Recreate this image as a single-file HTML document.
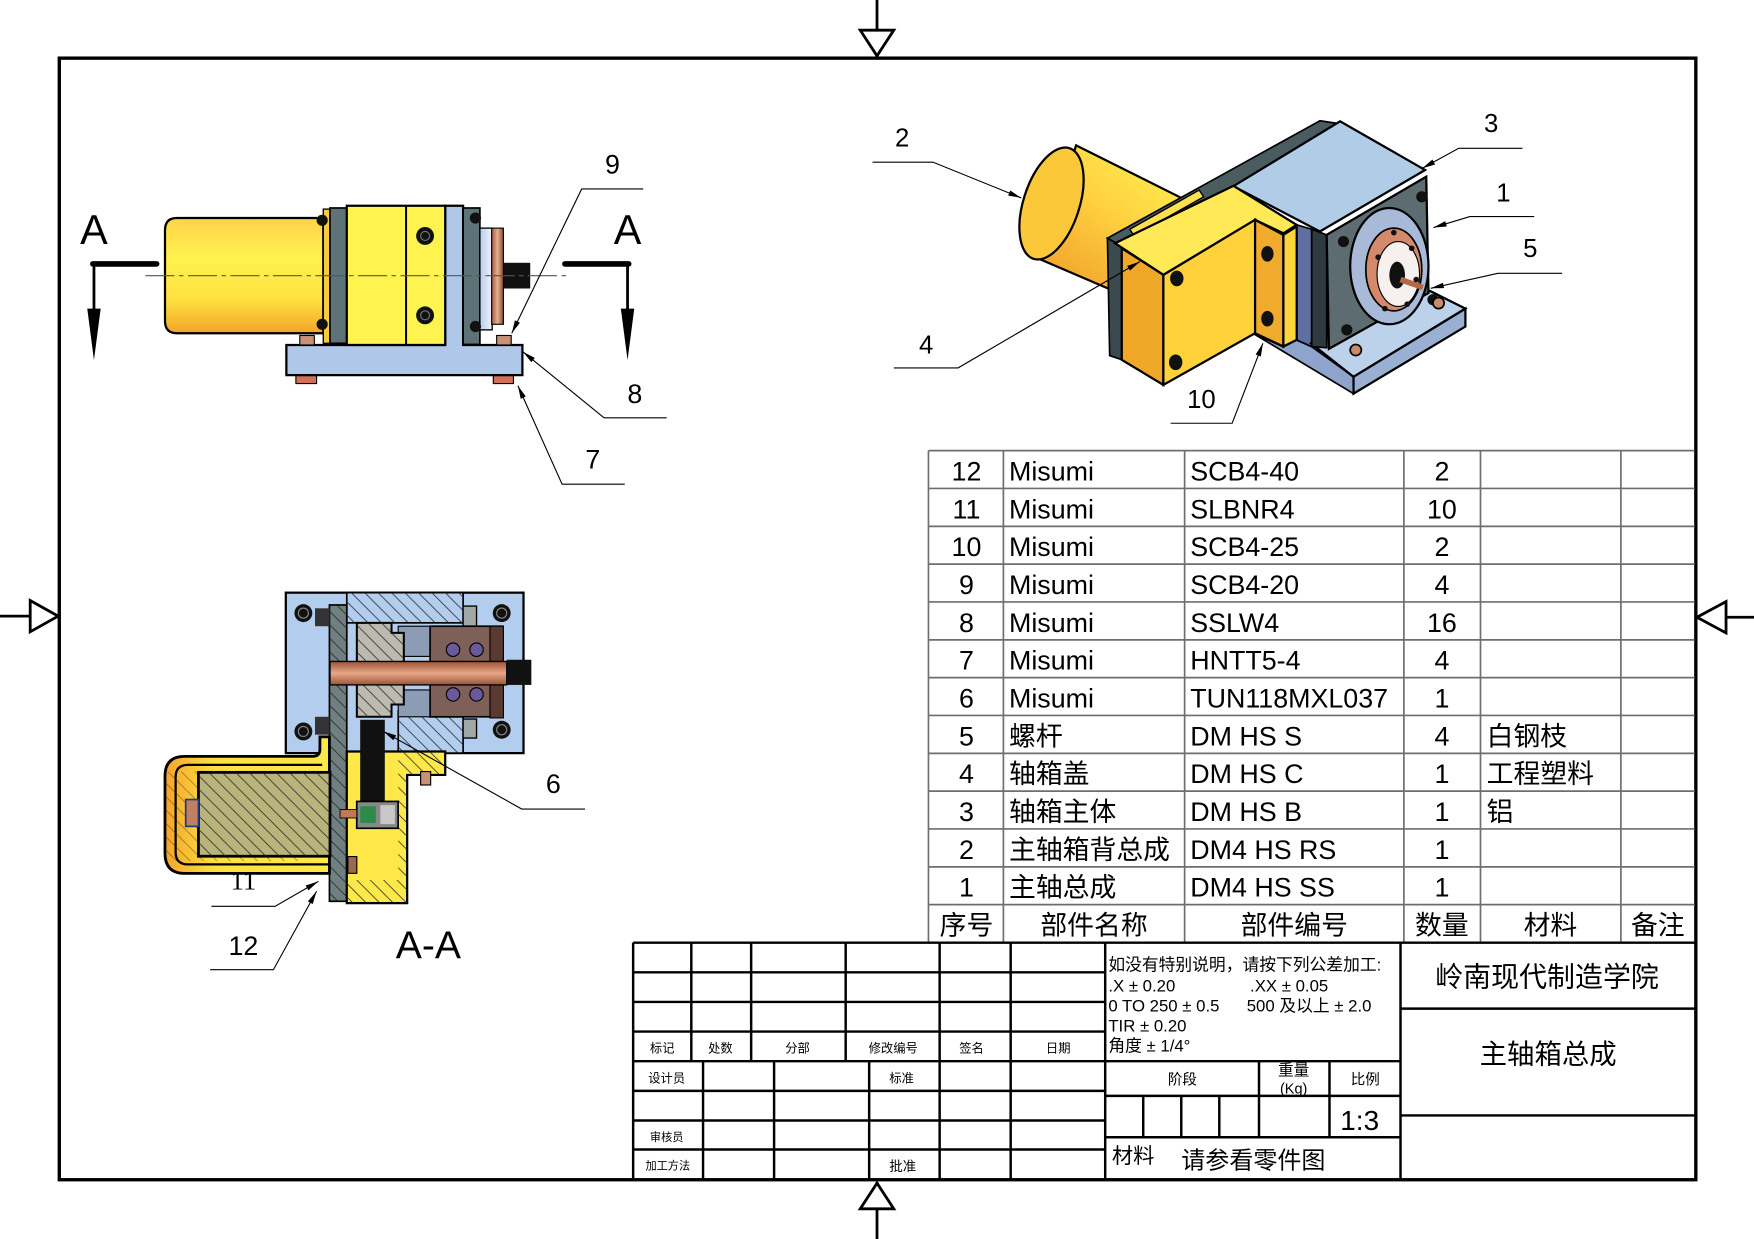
<!DOCTYPE html>
<html><head><meta charset="utf-8">
<style>
html,body{margin:0;padding:0;background:#fff;}
svg{display:block;}
text{font-family:"Liberation Sans","Noto Sans CJK SC",sans-serif;fill:#000;}
</style></head><body>
<svg width="1754" height="1239" viewBox="0 0 1568 1108" preserveAspectRatio="none" xmlns="http://www.w3.org/2000/svg">
<defs>
 <linearGradient id="mf" x1="0" y1="0" x2="0" y2="1">
  <stop offset="0" stop-color="#FFD24A"/><stop offset="0.35" stop-color="#FFF24E"/>
  <stop offset="0.7" stop-color="#FFE240"/><stop offset="1" stop-color="#F2A42A"/>
 </linearGradient>
 <linearGradient id="mi" x1="0" y1="1" x2="0.7" y2="0">
  <stop offset="0" stop-color="#EE9A28"/><stop offset="0.6" stop-color="#FFD040"/><stop offset="1" stop-color="#FFEC50"/>
 </linearGradient>
 <linearGradient id="ms" x1="0" y1="0" x2="1" y2="0">
  <stop offset="0" stop-color="#F4A52C"/><stop offset="0.3" stop-color="#FFE040"/><stop offset="1" stop-color="#FFE84A"/>
 </linearGradient>
 <linearGradient id="cu" x1="0" y1="0" x2="0" y2="1">
  <stop offset="0" stop-color="#9A5236"/><stop offset="0.5" stop-color="#E8A888"/><stop offset="1" stop-color="#9A5236"/>
 </linearGradient>
 <linearGradient id="cuh" x1="0" y1="0" x2="1" y2="0">
  <stop offset="0" stop-color="#A05838"/><stop offset="0.5" stop-color="#E8B090"/><stop offset="1" stop-color="#8A4A30"/>
 </linearGradient>
 <linearGradient id="fl" x1="0" y1="0" x2="1" y2="0">
  <stop offset="0" stop-color="#B8CCE8"/><stop offset="1" stop-color="#EEF4FF"/>
 </linearGradient>
 <pattern id="h" patternUnits="userSpaceOnUse" width="12" height="12">
  <path d="M0,0 L12,12 M-3,9 L3,15 M9,-3 L15,3" stroke="#222" stroke-width="0.7" fill="none"/>
 </pattern>
 <marker id="ar" viewBox="0 0 14 6" refX="14" refY="3" markerWidth="14" markerHeight="5" markerUnits="userSpaceOnUse" orient="auto">
  <path d="M0,0 L14,3 L0,6 z" fill="#000"/>
 </marker>
</defs>

<!-- ===== border & center marks ===== -->
<rect x="53" y="52" width="1463" height="1003" fill="none" stroke="#000" stroke-width="3"/>
<line x1="784" y1="0" x2="784" y2="51" stroke="#000" stroke-width="2.5"/>
<polygon points="769,27 799,27 784,50" fill="#fff" stroke="#000" stroke-width="2.5"/>
<line x1="784" y1="1057" x2="784" y2="1108" stroke="#000" stroke-width="2.5"/>
<polygon points="784,1058 769,1081 799,1081" fill="#fff" stroke="#000" stroke-width="2.5"/>
<line x1="0" y1="551" x2="52" y2="551" stroke="#000" stroke-width="2.5"/>
<polygon points="52,551 27,537 27,565" fill="#fff" stroke="#000" stroke-width="2.5"/>
<line x1="1517" y1="552" x2="1568" y2="552" stroke="#000" stroke-width="2.5"/>
<polygon points="1517,552 1543,538 1543,566" fill="#fff" stroke="#000" stroke-width="2.5"/>

<!-- ===== FRONT VIEW ===== -->
<path d="M289,195 L158,195 Q147.5,195 147.5,206 L147.5,287 Q147.5,298 158,298 L289,298 Z" fill="url(#mf)" stroke="#000" stroke-width="2"/>
<rect x="289" y="187" width="6" height="120" fill="#F6CC3C" stroke="#000" stroke-width="1.2"/>
<rect x="295" y="186" width="15" height="121" fill="#5E7378" stroke="#000" stroke-width="1.5"/>
<path d="M256,308.5 H398 V184 H414 V308.5 H467 V335.5 H256 Z" fill="#AFC8EA" stroke="#000" stroke-width="2"/>
<rect x="310" y="184" width="88" height="124.5" fill="#FFF44F" stroke="#000" stroke-width="2"/>
<line x1="363" y1="184" x2="363" y2="308.5" stroke="#000" stroke-width="1.8"/>
<circle cx="380" cy="211" r="8" fill="#111"/><circle cx="380" cy="211" r="4" fill="none" stroke="#777" stroke-width="1"/>
<circle cx="380" cy="282" r="8" fill="#111"/><circle cx="380" cy="282" r="4" fill="none" stroke="#777" stroke-width="1"/>
<rect x="414" y="186" width="15" height="122" fill="#5E7378" stroke="#000" stroke-width="1.5"/>
<rect x="429" y="204" width="11" height="91" fill="url(#fl)" stroke="#000" stroke-width="1.2"/>
<rect x="439.5" y="204" width="10.5" height="86" fill="url(#cuh)" stroke="#000" stroke-width="1"/>
<rect x="450" y="235" width="24" height="23" fill="#111"/>
<rect x="264.5" y="336" width="18.5" height="7" fill="#D0705A" stroke="#000" stroke-width="1"/>
<rect x="441" y="336" width="18" height="7" fill="#D0705A" stroke="#000" stroke-width="1"/>
<rect x="268" y="300" width="13" height="8.5" fill="#C89078" stroke="#000" stroke-width="1"/>
<rect x="444" y="300" width="13" height="8.5" fill="#C89078" stroke="#000" stroke-width="1"/>
<circle cx="288" cy="197" r="5" fill="#111"/><circle cx="288" cy="290" r="5" fill="#111"/>
<circle cx="425" cy="195" r="5" fill="#111"/><circle cx="425" cy="292" r="5" fill="#111"/>
<line x1="130" y1="246.5" x2="506" y2="246.5" stroke="#555" stroke-width="1" stroke-dasharray="26 4 4 4"/>
<!-- cutting plane marks -->
<line x1="83" y1="236" x2="140" y2="236" stroke="#000" stroke-width="5" stroke-linecap="round"/>
<line x1="84" y1="236" x2="84" y2="280" stroke="#000" stroke-width="2.5"/>
<polygon points="78,276 90,276 84,322" fill="#000"/>
<line x1="505" y1="236" x2="562" y2="236" stroke="#000" stroke-width="5" stroke-linecap="round"/>
<line x1="561" y1="236" x2="561" y2="280" stroke="#000" stroke-width="2.5"/>
<polygon points="555,276 567,276 561,322" fill="#000"/>
<text x="84" y="218" font-size="37" text-anchor="middle">A</text>
<text x="561" y="218" font-size="37" text-anchor="middle">A</text>
<!-- leaders front -->
<g fill="none" stroke="#000" stroke-width="1">
 <polyline points="575,169 520,169 457.5,298" marker-end="url(#ar)"/>
 <polyline points="596,373.6 540,373.6 467.5,314.6" marker-end="url(#ar)"/>
 <polyline points="558.5,433 502.5,433 463,345" marker-end="url(#ar)"/>
</g>
<text x="547.5" y="155" font-size="24" text-anchor="middle">9</text>
<text x="567.5" y="360.5" font-size="24" text-anchor="middle">8</text>
<text x="530" y="419" font-size="24" text-anchor="middle">7</text>

<!-- ===== ISO VIEW ===== -->
<path d="M962,130 L1056,177 L1000,262 L930,232 Z" fill="url(#mi)" stroke="#000" stroke-width="2"/>
<ellipse cx="940" cy="182" rx="25" ry="52" transform="rotate(18 940 182)" fill="#FBC83A" stroke="#000" stroke-width="2"/>
<polygon points="990,213 1180,108 1200,111 1006,222" fill="#4A5C60" stroke="#000" stroke-width="1.5"/>
<polygon points="990,213 1004,221 1004,322 992,318" fill="#3A4A4E" stroke="#000" stroke-width="1.5"/>
<polygon points="1010,205 1072,170 1076,176 1014,211" fill="#FFE050" stroke="#000" stroke-width="1.2"/>
<polygon points="1102.6,166.5 1198,108.5 1274,152 1180,207" fill="#B0CCE6" stroke="#000" stroke-width="2"/>
<polygon points="1120,298 1147,310 1159,304 1172.6,310 1210,337 1210,352" fill="#8EA4CC" stroke="#000" stroke-width="1.5"/>
<polygon points="1159,201 1172.6,205 1172.6,310 1159,304" fill="#5E6FA0" stroke="#000" stroke-width="1.5"/>
<polygon points="1172,307 1278,260 1310,276 1210,337" fill="#BCD2EA" stroke="#000" stroke-width="2"/>
<polygon points="1210,337 1310,276 1310,292 1210,352" fill="#9AB0D2" stroke="#000" stroke-width="2"/>
<polygon points="1172.6,205 1186,210 1186,311 1172.6,310" fill="#2E3A40" stroke="#000" stroke-width="1.5"/>
<polygon points="1186,210 1275,158 1277,262 1188,312" fill="#5C6C70" stroke="#000" stroke-width="2"/>
<ellipse cx="1242" cy="238" rx="35" ry="52" fill="#A8BAD8" stroke="#000" stroke-width="2"/>
<ellipse cx="1246" cy="241" rx="25" ry="37" fill="#D48A6A" stroke="#000" stroke-width="1.5"/>
<ellipse cx="1250" cy="245" rx="19" ry="29" fill="#F6F0EE" stroke="#000" stroke-width="1"/>
<ellipse cx="1249" cy="246" rx="7" ry="12" fill="#111"/>
<line x1="1252" y1="250" x2="1272" y2="257" stroke="#B06A48" stroke-width="5"/>
<g fill="#111">
 <circle cx="1246" cy="208" r="2.5"/><circle cx="1262" cy="222" r="2.5"/><circle cx="1266" cy="250" r="2.5"/>
 <circle cx="1258" cy="272" r="2.5"/><circle cx="1238" cy="276" r="2.5"/><circle cx="1232" cy="230" r="2.5"/>
 <circle cx="1271" cy="176" r="5"/><circle cx="1201" cy="216" r="5"/><circle cx="1204" cy="295" r="5"/><circle cx="1281" cy="268" r="5"/>
</g>
<ellipse cx="1212" cy="313" rx="5" ry="5" fill="#C88A6A" stroke="#000" stroke-width="1.5"/>
<ellipse cx="1286" cy="271" rx="5" ry="5" fill="#C88A6A" stroke="#000" stroke-width="1.5"/>
<!-- lid -->
<polygon points="1002.8,222 1040,245.8 1040,344.2 1002.8,321.8" fill="#EFA728" stroke="#000" stroke-width="2"/>
<polygon points="996.8,217.5 1102.6,166.2 1159.2,201.1 1147.3,208.6 1122,196.6 1040,245.8" fill="#FFE957" stroke="#000" stroke-width="2"/>
<polygon points="1040,245.8 1122,196.6 1122,298 1040,344.2" fill="#FFD13A" stroke="#000" stroke-width="2"/>
<polygon points="1122,196.6 1147.3,210 1147.3,309.9 1122,298" fill="#F0AA2C" stroke="#000" stroke-width="2"/>
<polygon points="1147.3,210 1159.2,202.6 1159.2,303.9 1147.3,309.9" fill="#FFD53E" stroke="#000" stroke-width="2"/>
<g fill="#111">
 <ellipse cx="1052" cy="249" rx="6" ry="7"/><ellipse cx="1051" cy="324" rx="6" ry="7"/>
 <ellipse cx="1133" cy="227" rx="5.5" ry="7"/><ellipse cx="1133" cy="285" rx="5.5" ry="7"/>
</g>
<!-- iso leaders -->
<g fill="none" stroke="#000" stroke-width="1">
 <polyline points="780,145 834,145 913,177" marker-end="url(#ar)"/>
 <polyline points="1361,132.6 1304,132.6 1271.5,150.5" marker-end="url(#ar)"/>
 <polyline points="1371.5,193.7 1314,193.7 1281.5,203.5" marker-end="url(#ar)"/>
 <polyline points="1396.5,244.4 1339,244.4 1279,257.8" marker-end="url(#ar)"/>
 <polyline points="799,329 856.5,329 1019,234" marker-end="url(#ar)"/>
 <polyline points="1046.5,378.5 1101.5,378.5 1129,307" marker-end="url(#ar)"/>
</g>
<text x="806.5" y="131" font-size="23" text-anchor="middle">2</text>
<text x="1333" y="118" font-size="23" text-anchor="middle">3</text>
<text x="1344" y="180" font-size="23" text-anchor="middle">1</text>
<text x="1368" y="230" font-size="23" text-anchor="middle">5</text>
<text x="828" y="316" font-size="23" text-anchor="middle">4</text>
<text x="1074" y="365" font-size="23" text-anchor="middle">10</text>

<!-- ===== SECTION A-A ===== -->
<rect x="255.5" y="530" width="212.5" height="143.5" fill="#B2CDEE" stroke="#000" stroke-width="2"/>
<rect x="310" y="530" width="104" height="27" fill="#B2CDEE" stroke="#000" stroke-width="1.5"/>
<rect x="310" y="530" width="104" height="27" fill="url(#h)"/>
<path d="M356,636 H384 V641 H414 V673.5 H356 Z" fill="#B2CDEE" stroke="#000" stroke-width="1.5"/>
<path d="M356,636 H384 V641 H414 V673.5 H356 Z" fill="url(#h)"/>
<rect x="414" y="542" width="12" height="18" fill="#A0A8A8" stroke="#000" stroke-width="1.2"/>
<rect x="414" y="643" width="12" height="17" fill="#A0A8A8" stroke="#000" stroke-width="1.2"/>
<rect x="356" y="560" width="29" height="27" fill="#8C9CB4" stroke="#000" stroke-width="1"/>
<rect x="356" y="617" width="29" height="24" fill="#8C9CB4" stroke="#000" stroke-width="1"/>
<rect x="384.5" y="560" width="65" height="81" fill="#7E6058" stroke="#000" stroke-width="1.5"/>
<rect x="438" y="560" width="12" height="82" fill="#5A3A30" stroke="#000" stroke-width="1"/>
<g fill="#6A5A9A" stroke="#000" stroke-width="1">
 <circle cx="405" cy="581" r="6"/><circle cx="426" cy="581" r="6"/>
 <circle cx="405" cy="621" r="6"/><circle cx="426" cy="621" r="6"/>
</g>
<path d="M319,557 H350 V566 H361 V630 H350 V641 H319 Z" fill="#BDBAB2" stroke="#000" stroke-width="1.8"/>
<path d="M319,557 H350 V566 H361 V630 H350 V641 H319 Z" fill="url(#h)"/>
<rect x="294.5" y="541" width="15.5" height="265" fill="#708080" stroke="#000" stroke-width="1.5"/>
<rect x="294.5" y="541" width="15.5" height="265" fill="url(#h)"/>
<rect x="295" y="591.5" width="158" height="21" fill="url(#cu)" stroke="#000" stroke-width="1.2"/>
<rect x="453" y="590" width="22" height="22.5" fill="#111"/>
<rect x="281.6" y="544" width="13" height="16" fill="#333"/>
<rect x="281.6" y="641" width="13" height="16" fill="#333"/>
<g>
 <circle cx="271.2" cy="548.3" r="8" fill="#111"/><circle cx="271.2" cy="548.3" r="4.5" fill="none" stroke="#888" stroke-width="1"/>
 <circle cx="448.5" cy="548.3" r="8" fill="#111"/><circle cx="448.5" cy="548.3" r="4.5" fill="none" stroke="#888" stroke-width="1"/>
 <circle cx="271.2" cy="654.1" r="8" fill="#111"/><circle cx="271.2" cy="654.1" r="4.5" fill="none" stroke="#888" stroke-width="1"/>
 <circle cx="448.5" cy="652.6" r="8" fill="#111"/><circle cx="448.5" cy="652.6" r="4.5" fill="none" stroke="#888" stroke-width="1"/>
</g>
<!-- lid section -->
<path d="M310,672 H398 V693 H364 V807.6 H310 Z" fill="#FFE84A" stroke="#000" stroke-width="2"/>
<path d="M356,672 H398 V693 H364 V787 H356 Z" fill="url(#h)"/>
<rect x="310" y="787" width="54" height="20.6" fill="url(#h)"/>
<rect x="322" y="643.7" width="22" height="74" fill="#111"/>
<rect x="318.9" y="716.7" width="37" height="24" fill="#888" stroke="#000" stroke-width="1.5"/>
<rect x="322" y="721" width="14" height="15" fill="#2F8A4A"/>
<rect x="340" y="720" width="13" height="17" fill="#C8C8C8"/>
<rect x="304" y="724" width="15" height="7.5" fill="#C07A58" stroke="#000" stroke-width="0.8"/>
<rect x="376" y="690" width="9" height="12" fill="#C89078" stroke="#000" stroke-width="1"/>
<rect x="311" y="766" width="8" height="15" fill="#9A6A50" stroke="#000" stroke-width="1"/>
<!-- motor section -->
<path d="M286,659 L294.5,659 L294.5,781 L165,781 Q147.5,781 147.5,763 L147.5,694 Q147.5,676.4 165,676.4 L280,676.4 Q286,676 286,670 Z" fill="url(#ms)" stroke="#000" stroke-width="2.5"/>
<path d="M288,684 H168 Q157,684 157,695 V762 Q157,773 168,773 H294" fill="none" stroke="#000" stroke-width="2"/>
<rect x="147.5" y="690" width="120" height="80" fill="url(#h)" opacity="0.5"/>
<rect x="177.4" y="690.7" width="117.6" height="75" fill="#B8B47C" stroke="#000" stroke-width="2.5"/>
<rect x="177.4" y="690.7" width="117.6" height="75" fill="url(#h)"/>
<rect x="166" y="715" width="11.4" height="24" fill="#C08060" stroke="#1a3a8a" stroke-width="1.5"/>
<!-- section leaders -->
<g fill="none" stroke="#000" stroke-width="1">
 <polyline points="523,723.5 466.4,723.5 342.7,654.1" marker-end="url(#ar)"/>
 <polyline points="189,810.5 245.9,810.5 284.6,788.2" marker-end="url(#ar)"/>
 <polyline points="187.8,867.2 244.4,867.2 283,797" marker-end="url(#ar)"/>
</g>
<text x="494.7" y="709" font-size="24" text-anchor="middle">6</text>
<text x="217.6" y="795.5" font-size="24" text-anchor="middle" style="font-family:'Liberation Serif',serif">11</text>
<text x="217.6" y="854" font-size="24" text-anchor="middle">12</text>
<text x="383" y="857" font-size="35" text-anchor="middle">A-A</text>

<!-- ===== PARTS TABLE ===== -->
<g stroke="#6e6e6e" stroke-width="1.5">
 <line x1="830" y1="403" x2="1515" y2="403"/>
 <line x1="830" y1="436.8" x2="1515" y2="436.8"/>
 <line x1="830" y1="470.7" x2="1515" y2="470.7"/>
 <line x1="830" y1="504.5" x2="1515" y2="504.5"/>
 <line x1="830" y1="538.3" x2="1515" y2="538.3"/>
 <line x1="830" y1="572.2" x2="1515" y2="572.2"/>
 <line x1="830" y1="606" x2="1515" y2="606"/>
 <line x1="830" y1="639.8" x2="1515" y2="639.8"/>
 <line x1="830" y1="673.7" x2="1515" y2="673.7"/>
 <line x1="830" y1="707.5" x2="1515" y2="707.5"/>
 <line x1="830" y1="741.3" x2="1515" y2="741.3"/>
 <line x1="830" y1="775.2" x2="1515" y2="775.2"/>
 <line x1="830" y1="809" x2="1515" y2="809"/>
 <line x1="830" y1="403" x2="830" y2="843"/>
 <line x1="897" y1="403" x2="897" y2="843"/>
 <line x1="1059" y1="403" x2="1059" y2="843"/>
 <line x1="1255" y1="403" x2="1255" y2="843"/>
 <line x1="1323.5" y1="403" x2="1323.5" y2="843"/>
 <line x1="1449" y1="403" x2="1449" y2="843"/>
</g>
<g font-size="24">
 <g text-anchor="middle">
  <text x="864" y="429.7">12</text><text x="864" y="463.5">11</text><text x="864" y="497.4">10</text>
  <text x="864" y="531.2">9</text><text x="864" y="565">8</text><text x="864" y="598.9">7</text>
  <text x="864" y="632.7">6</text><text x="864" y="666.5">5</text><text x="864" y="700.4">4</text>
  <text x="864" y="734.2">3</text><text x="864" y="768">2</text><text x="864" y="801.8">1</text>
  <text x="1289" y="429.7">2</text><text x="1289" y="463.5">10</text><text x="1289" y="497.4">2</text>
  <text x="1289" y="531.2">4</text><text x="1289" y="565">16</text><text x="1289" y="598.9">4</text>
  <text x="1289" y="632.7">1</text><text x="1289" y="666.5">4</text><text x="1289" y="700.4">1</text>
  <text x="1289" y="734.2">1</text><text x="1289" y="768">1</text><text x="1289" y="801.8">1</text>
  <text x="864" y="835.6">序号</text><text x="978" y="835.6">部件名称</text><text x="1157" y="835.6">部件编号</text>
  <text x="1289" y="835.6">数量</text><text x="1386" y="835.6">材料</text><text x="1482" y="835.6">备注</text>
 </g>
 <text x="902" y="429.7">Misumi</text><text x="902" y="463.5">Misumi</text><text x="902" y="497.4">Misumi</text>
 <text x="902" y="531.2">Misumi</text><text x="902" y="565">Misumi</text><text x="902" y="598.9">Misumi</text>
 <text x="902" y="632.7">Misumi</text><text x="902" y="666.5">螺杆</text><text x="902" y="700.4">轴箱盖</text>
 <text x="902" y="734.2">轴箱主体</text><text x="902" y="768">主轴箱背总成</text><text x="902" y="801.8">主轴总成</text>
 <text x="1064" y="429.7">SCB4-40</text><text x="1064" y="463.5">SLBNR4</text><text x="1064" y="497.4">SCB4-25</text>
 <text x="1064" y="531.2">SCB4-20</text><text x="1064" y="565">SSLW4</text><text x="1064" y="598.9">HNTT5-4</text>
 <text x="1064" y="632.7">TUN118MXL037</text><text x="1064" y="666.5">DM HS S</text><text x="1064" y="700.4">DM HS C</text>
 <text x="1064" y="734.2">DM HS B</text><text x="1064" y="768">DM4 HS RS</text><text x="1064" y="801.8">DM4 HS SS</text>
 <text x="1329" y="666.5">白钢枝</text><text x="1329" y="700.4">工程塑料</text><text x="1329" y="734.2">铝</text>
</g>

<!-- ===== TITLE BLOCK ===== -->
<g stroke="#000" stroke-width="2.2" fill="none">
 <line x1="566" y1="843" x2="1516" y2="843"/>
 <line x1="566" y1="843" x2="566" y2="1055"/>
 <line x1="566" y1="869.5" x2="988" y2="869.5"/>
 <line x1="566" y1="896" x2="988" y2="896"/>
 <line x1="566" y1="922.5" x2="988" y2="922.5"/>
 <line x1="566" y1="949" x2="1252" y2="949"/>
 <line x1="618" y1="843" x2="618" y2="949"/>
 <line x1="671.5" y1="843" x2="671.5" y2="949"/>
 <line x1="756" y1="843" x2="756" y2="949"/>
 <line x1="840" y1="843" x2="840" y2="1055"/>
 <line x1="903.5" y1="843" x2="903.5" y2="1055"/>
 <line x1="988" y1="843" x2="988" y2="1055"/>
 <line x1="566" y1="975.5" x2="988" y2="975.5"/>
 <line x1="566" y1="1002" x2="988" y2="1002"/>
 <line x1="566" y1="1028" x2="988" y2="1028"/>
 <line x1="628.5" y1="949" x2="628.5" y2="1055"/>
 <line x1="692" y1="949" x2="692" y2="1055"/>
 <line x1="777" y1="949" x2="777" y2="1055"/>
 <line x1="1252" y1="843" x2="1252" y2="1055"/>
 <line x1="988" y1="980" x2="1252" y2="980"/>
 <line x1="988" y1="1017" x2="1252" y2="1017"/>
 <line x1="1125.5" y1="949" x2="1125.5" y2="1017"/>
 <line x1="1188.5" y1="949" x2="1188.5" y2="1017"/>
 <line x1="1022" y1="980" x2="1022" y2="1017"/>
 <line x1="1056" y1="980" x2="1056" y2="1017"/>
 <line x1="1090" y1="980" x2="1090" y2="1017"/>
 <line x1="1252" y1="902" x2="1516" y2="902"/>
 <line x1="1252" y1="997.5" x2="1516" y2="997.5"/>
</g>
<g font-size="11" text-anchor="middle" fill="#222">
 <text x="592" y="941">标记</text><text x="644" y="941">处数</text><text x="713" y="941">分部</text>
 <text x="798.5" y="941">修改编号</text><text x="868.5" y="941">签名</text><text x="946" y="941">日期</text>
 <text x="596" y="968">设计员</text><text x="806" y="968">标准</text>
 <text x="596" y="1020.5" font-size="10">审核员</text><text x="597" y="1046" font-size="10">加工方法</text>
 <text x="807" y="1047" font-size="12">批准</text>
</g>
<g font-size="15">
 <text x="990.8" y="868">如没有特别说明，请按下列公差加工:</text>
 <text x="990.8" y="886.5">.X ± 0.20</text><text x="1117.5" y="886.5">.XX ± 0.05</text>
 <text x="990.8" y="904.5">0 TO 250 ± 0.5</text><text x="1114.5" y="904.5">500 及以上 ± 2.0</text>
 <text x="990.8" y="922.5">TIR ± 0.20</text>
 <text x="990.8" y="940.5">角度 ± 1/4°</text>
</g>
<text x="1057" y="970" font-size="13" text-anchor="middle">阶段</text>
<text x="1156.5" y="962" font-size="14" text-anchor="middle">重量</text>
<text x="1156.5" y="978" font-size="13" text-anchor="middle">(Kg)</text>
<text x="1220.5" y="970" font-size="13" text-anchor="middle">比例</text>
<text x="1215.5" y="1010.5" font-size="25" text-anchor="middle">1:3</text>
<text x="994" y="1040" font-size="19">材料</text>
<text x="1056" y="1045" font-size="21.5">请参看零件图</text>
<text x="1383" y="882" font-size="25" text-anchor="middle">岭南现代制造学院</text>
<text x="1384" y="951" font-size="24.5" text-anchor="middle">主轴箱总成</text>
</svg>
</body></html>
